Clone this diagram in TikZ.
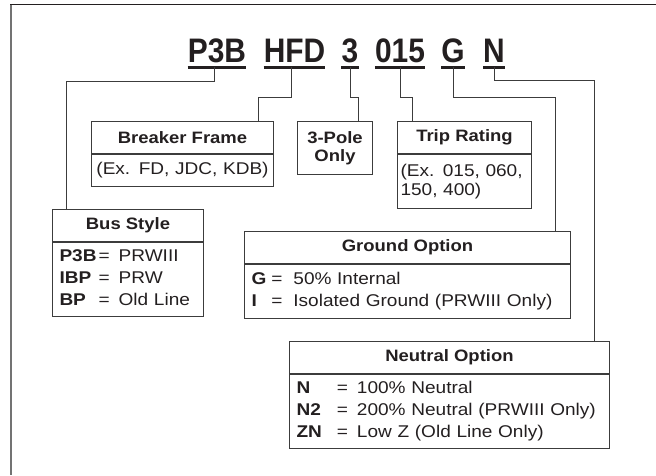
\documentclass[tikz,border=0pt]{standalone}
\usepackage{fontspec}
\setmainfont[FakeStretch=1.12]{Liberation Sans}
\newfontfamily\codefont[FakeStretch=0.88]{Liberation Sans}
\usetikzlibrary{positioning}
\definecolor{CatInk}{RGB}{35, 31, 32}
\definecolor{CatLine}{RGB}{60, 60, 60}
\definecolor{CatFrame}{RGB}{115, 115, 115}

\begin{document}
\begin{tikzpicture}[x=1pt, y=-1pt,
    code/.style={font=\codefont\bfseries\fontsize{34}{34}\selectfont, text=CatInk,
                 anchor=base, inner xsep=0pt, inner ysep=5pt, text depth=0pt},
    uline/.style={draw=CatInk, line width=2.6pt},
    conn/.style={draw=CatLine, line width=1pt},
    hdr/.style={draw=CatLine, line width=1pt, text=CatInk, anchor=north west,
                font=\bfseries\fontsize{16.5}{18}\selectfont, align=center,
                minimum width=#1, minimum height=32pt, inner sep=0pt},
    bdy/.style={draw=CatLine, line width=1pt, text=CatInk, align=left,
                font=\fontsize{17}{22}\selectfont, inner xsep=7pt, inner ysep=0pt}]
  \useasboundingbox (0,0) rectangle (656,475);

  % frame
  \draw[CatInk, line width=1.5pt] (10,4.5) -- (656,4.5);
  \draw[CatFrame, line width=2pt] (11,4.5) -- (11,475);

  % catalog number
  \node[code] (cP3B) at (217,62) {P3B};
  \node[code] (cHFD) at (294.5,62) {HFD};
  \node[code] (cThree) at (350,62) {3};
  \node[code] (cRate) at (400,62) {015};
  \node[code] (cGnd) at (453,62) {G};
  \node[code] (cNeu) at (494,62) {N};
  \draw[uline] (cP3B.south west) -- (cP3B.south east);
  \draw[uline] (cHFD.south west) -- (cHFD.south east);
  \draw[uline] (cThree.south west) -- (cThree.south east);
  \draw[uline] (cRate.south west) -- (cRate.south east);
  \draw[uline] (cGnd.south west) -- (cGnd.south east);
  \draw[uline] (cNeu.south west) -- (cNeu.south east);

  % boxes
  \node[hdr=182pt] (brk) at (91,121) {Breaker Frame};
  \node[bdy, inner xsep=1pt, text width=180pt, minimum height=32pt, align=center,
        below=0pt of brk] (brkb) {(Ex. FD, JDC, KDB)};

  \node[hdr=75pt, minimum height=53pt] (pole) at (297,121) {3-Pole\\Only};

  \node[hdr=134pt] (trip) at (397,121) {Trip Rating};
  \node[bdy, inner xsep=3pt, text width=128pt, minimum height=54pt,
        font=\fontsize{17}{18.5}\selectfont, below=0pt of trip] (tripb)
    {(Ex. 015, 060,\\150, 400)};

  \node[hdr=151pt] (bus) at (52,209) {Bus Style};
  \node[bdy, text width=137pt, minimum height=74pt, below=0pt of bus] (busb)
    {\begin{tabular}{@{}l@{\hspace{2pt}}c@{\hspace{9pt}}l@{}}
       \textbf{P3B} & = & PRWIII\\
       \textbf{IBP} & = & PRW\\
       \textbf{BP} & = & Old Line
     \end{tabular}};

  \node[hdr=326pt] (gnd) at (244,231) {Ground Option};
  \node[bdy, text width=312pt, minimum height=54pt, below=0pt of gnd] (gndb)
    {\begin{tabular}{@{}l@{\hspace{5pt}}c@{\hspace{11pt}}l@{}}
       \textbf{G} & = & 50\% Internal\\
       \textbf{I} & = & Isolated Ground (PRWIII Only)
     \end{tabular}};

  \node[hdr=320pt] (neu) at (289,341) {Neutral Option};
  \node[bdy, text width=306pt, minimum height=74pt, below=0pt of neu] (neub)
    {\begin{tabular}{@{}l@{\hspace{15pt}}c@{\hspace{9pt}}l@{}}
       \textbf{N} & = & 100\% Neutral\\
       \textbf{N2} & = & 200\% Neutral (PRWIII Only)\\
       \textbf{ZN} & = & Low Z (Old Line Only)
     \end{tabular}};

  % leaders
  \draw[conn] ([xshift=-3pt]cP3B.south) -- ++(0,14) -| ([xshift=14pt]bus.north west);
  \draw[conn] ([xshift=-3pt]cHFD.south) -- ++(0,30) -| ([xshift=-16pt]brk.north east);
  \draw[conn] (cThree.south) -- ++(0,30) -| ([xshift=-15pt]pole.north east);
  \draw[conn] (cRate.south) -- ++(0,30) -| ([xshift=15pt]trip.north west);
  \draw[conn] (cGnd.south) -- ++(0,30) -| ([xshift=-16pt]gnd.north east);
  \draw[conn] (cNeu.south) -- ++(0,13) -| ([xshift=-16pt]neu.north east);
\end{tikzpicture}
\end{document}
